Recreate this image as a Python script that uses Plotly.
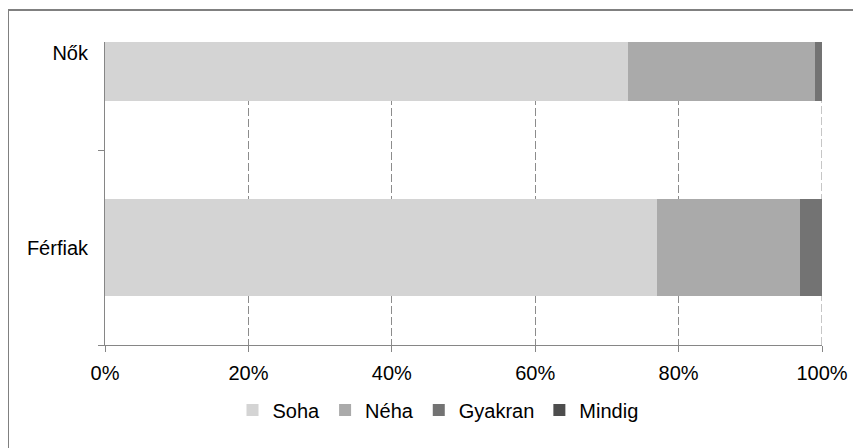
import plotly.graph_objects as go

categories = ["Férfiak", "Nők"]
series_names = ["Soha", "Néha", "Gyakran", "Mindig"]
soha = [77, 73]
neha = [20, 26]
gyakran = [3, 1]
mindig = [0, 0]
series_values = [soha, neha, gyakran, mindig]
colors = ["#d4d4d4", "#aaaaaa", "#737373", "#4d4d4d"]
x_ticks = [0, 20, 40, 60, 80, 100]
x_tick_labels = ["0%", "20%", "40%", "60%", "80%", "100%"]

FONT = "Liberation Sans, Arial, sans-serif"

fig = go.Figure()
for name, vals, col in zip(series_names, series_values, colors):
    fig.add_trace(go.Bar(
        y=categories, x=vals, name=name, orientation="h",
        marker=dict(color=col, line=dict(width=0)),
        width=0.5,
    ))

OFF = 8  # page body margin
W, H = 861 - OFF, 448 - OFF
L, R, T, B = 105 - OFF, 39, 42 - OFF, 103
pw, ph = W - L - R, H - T - B

def px_x(x):
    return (x - OFF - L) / pw

def px_y(y):
    return (H - B - (y - OFF)) / ph

GRID = "#8c8c8c"

fig.update_layout(
    width=W, height=H,
    barmode="stack",
    margin=dict(l=L, r=R, t=T, b=B),
    paper_bgcolor="white", plot_bgcolor="white",
    font=dict(family=FONT, size=20, color="#000000"),
    showlegend=True,
    legend=dict(
        orientation="h", x=px_x(438), xanchor="center",
        y=px_y(410), yanchor="middle",
        font=dict(size=20), traceorder="normal",
        itemwidth=30, tracegroupgap=0,
    ),
    xaxis=dict(
        range=[0, 100], tickvals=x_ticks, ticktext=x_tick_labels,
        showgrid=True, gridcolor=GRID, griddash="8px,3px", gridwidth=1,
        showline=True, linecolor="#868686", linewidth=1,
        ticks="outside", ticklen=6, tickcolor="#868686",
        ticklabelstandoff=4,
        zeroline=False, fixedrange=True,
    ),
    yaxis=dict(
        type="category", categoryorder="array", categoryarray=categories,
        range=[-0.5, 1.054],
        showgrid=False, showline=True, linecolor="#868686", linewidth=1,
        ticks="outside", ticklen=6, tickcolor="#868686", tickson="boundaries",
        ticklabelstandoff=12, zeroline=False, fixedrange=True,
    ),
    shapes=[
        dict(type="line", xref="x", yref="paper", layer="below",
             x0=x_ticks[-1], x1=x_ticks[-1], y0=0, y1=1,
             line=dict(color=GRID, width=1, dash="8px,3px")),
        dict(type="line", xref="paper", yref="paper",
             x0=px_x(7), x1=px_x(900), y0=px_y(10), y1=px_y(10),
             line=dict(color="#808080", width=2)),
        dict(type="line", xref="paper", yref="paper",
             x0=px_x(8), x1=px_x(8), y0=px_y(9), y1=px_y(500),
             line=dict(color="#808080", width=2)),
    ],
)

fig.write_html("out.html")
